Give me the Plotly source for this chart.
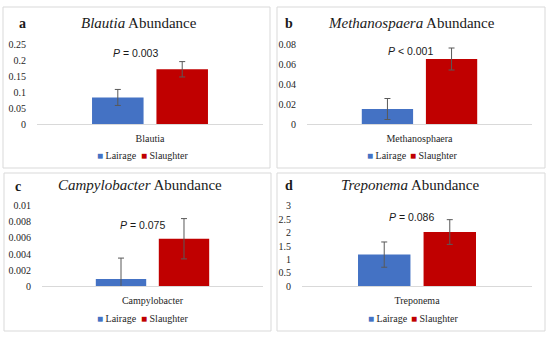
import plotly.graph_objects as go

# ---------------- data ----------------
categories = ["Blautia", "Methanosphaera", "Campylobacter", "Treponema"]
title_genus = ["Blautia", "Methanospaera", "Campylobacter", "Treponema"]
panel_letters = ["a", "b", "c", "d"]
lairage = [0.083, 0.015, 0.0009, 1.18]
lairage_err = [0.025, 0.0105, 0.0026, 0.47]
slaughter = [0.171, 0.065, 0.0059, 2.02]
slaughter_err = [0.024, 0.011, 0.0025, 0.46]
p_text = ["= 0.003", "< 0.001", "= 0.075", "= 0.086"]
y_max = [0.25, 0.08, 0.01, 3]
tick_vals = [
    [0, 0.05, 0.1, 0.15, 0.2, 0.25],
    [0, 0.02, 0.04, 0.06, 0.08],
    [0, 0.002, 0.004, 0.006, 0.008, 0.01],
    [0, 0.5, 1, 1.5, 2, 2.5, 3],
]
tick_text = [
    ["0", "0.05", "0.1", "0.15", "0.2", "0.25"],
    ["0", "0.02", "0.04", "0.06", "0.08"],
    ["0", "0.002", "0.004", "0.006", "0.008", "0.01"],
    ["0", "0.5", "1", "1.5", "2", "2.5", "3"],
]
series_names = ["Lairage", "Slaughter"]

# ---------------- styling / layout ----------------
W, H = 550, 337
COLORS = ["#4472C4", "#C00000"]
SERIF = "Liberation Serif, Times New Roman, serif"
SANS = "Liberation Sans, Arial, sans-serif"
TXT = "#262626"

# plot areas in pixels: (x0, x1, ytop, ybottom)
plot_px = [(37, 263, 44, 124), (307, 532, 44, 124), (42, 263, 205.7, 286.3), (302, 532, 205.7, 286.3)]
border_px = [(3, 270, 7, 168), (277, 545, 7, 168), (4, 271, 173, 331), (277, 545, 173, 331)]
title_px = [(139, 23), (411, 23), (140, 185), (410, 185)]
letter_px = [(22, 23), (289, 23), (18, 186), (289, 185)]
p_px = [(135, 53), (410, 51), (142, 225), (411, 217)]
# left edge of each legend entry's square (Lairage, Slaughter), and centre y
legend_px = [((97, 141), 155), ((367, 410), 155), ((97, 141), 318), ((368, 411), 318)]
LEG_OFFSET = 40  # blank symbol area + padding that precedes legend text

fx = lambda px: px / W
fy = lambda py: 1 - py / H

fig = go.Figure()
layout = dict(
    width=W, height=H,
    margin=dict(l=0, r=0, t=0, b=0, pad=0, autoexpand=False),
    paper_bgcolor="white", plot_bgcolor="white",
    barmode="group", bargap=0.43, bargroupgap=0.2,
    showlegend=True,
    shapes=[], annotations=[],
)

leg_count = 0
for i in range(4):
    n = "" if i == 0 else str(i + 1)
    xa, ya = "x" + n, "y" + n
    vals = [lairage[i], slaughter[i]]
    errs = [lairage_err[i], slaughter_err[i]]
    for k in range(2):
        fig.add_trace(go.Bar(
            x=[categories[i]], y=[vals[k]], name=series_names[k],
            marker=dict(color=COLORS[k], line=dict(width=0)),
            error_y=dict(type="data", array=[errs[k]], visible=True,
                         color="#595959", thickness=1, width=3),
            xaxis=xa, yaxis=ya, showlegend=False, offsetgroup=str(k),
        ))
    (sq0, sq1), ly = legend_px[i]
    for k, sx in enumerate([sq0, sq1]):
        leg_count += 1
        leg = "legend" if leg_count == 1 else "legend" + str(leg_count)
        fig.add_trace(go.Scatter(
            x=[None], y=[None], mode="none",
            name="<span style='color:%s'>\u25A0</span> %s" % (COLORS[k], series_names[k]),
            xaxis=xa, yaxis=ya, legend=leg, showlegend=True,
        ))
        layout[leg] = dict(
            orientation="h", x=fx(sx - LEG_OFFSET), y=fy(ly),
            xanchor="left", yanchor="middle",
            xref="paper", yref="paper", bgcolor="rgba(0,0,0,0)",
            font=dict(family=SERIF, size=10, color=TXT), itemwidth=30,
            borderwidth=0,
        )

    x0, x1, yt, yb = plot_px[i]
    layout["xaxis" + n] = dict(
        domain=[fx(x0), fx(x1)], anchor=ya, type="category", automargin=False,
        showline=True, linecolor="#D9D9D9", linewidth=1,
        showgrid=False, zeroline=False, ticks="outside", ticklen=5,
        tickcolor="rgba(0,0,0,0)",
        tickfont=dict(family=SERIF, size=10, color=TXT), fixedrange=True,
    )
    layout["yaxis" + n] = dict(
        domain=[fy(yb), fy(yt)], anchor=xa, range=[0, y_max[i]], automargin=False,
        tickvals=tick_vals[i], ticktext=tick_text[i],
        showgrid=False, zeroline=False, showline=False,
        ticks="outside", ticklen=8, tickcolor="rgba(0,0,0,0)",
        tickfont=dict(family=SERIF, size=10, color=TXT), fixedrange=True,
    )
    bx0, bx1, by0, by1 = border_px[i]
    layout["shapes"].append(dict(
        type="rect", xref="paper", yref="paper",
        x0=fx(bx0), x1=fx(bx1), y0=fy(by1), y1=fy(by0),
        line=dict(color="#D9D9D9", width=1), fillcolor="rgba(0,0,0,0)", layer="below",
    ))
    tx, ty = title_px[i]
    layout["annotations"].append(dict(
        text="<i>" + title_genus[i] + "</i> Abundance", x=fx(tx), y=fy(ty),
        xref="paper", yref="paper", xanchor="center", yanchor="middle",
        showarrow=False, font=dict(family=SERIF, size=15, color="#1a1a1a"),
    ))
    lx_, ly_ = letter_px[i]
    layout["annotations"].append(dict(
        text="<b>" + panel_letters[i] + "</b>", x=fx(lx_), y=fy(ly_),
        xref="paper", yref="paper", xanchor="center", yanchor="middle",
        showarrow=False, font=dict(family=SERIF, size=14, color="#1a1a1a"),
    ))
    px_, py_ = p_px[i]
    layout["annotations"].append(dict(
        text="<i>P</i> " + p_text[i], x=fx(px_), y=fy(py_),
        xref="paper", yref="paper", xanchor="center", yanchor="middle",
        showarrow=False, font=dict(family=SANS, size=10.5, color="#1a1a1a"),
    ))

fig.update_layout(**layout)
fig.write_html(
    "out.html",
    config={"displayModeBar": False},
    post_script="document.body.style.margin='0';document.body.style.padding='0';",
)
